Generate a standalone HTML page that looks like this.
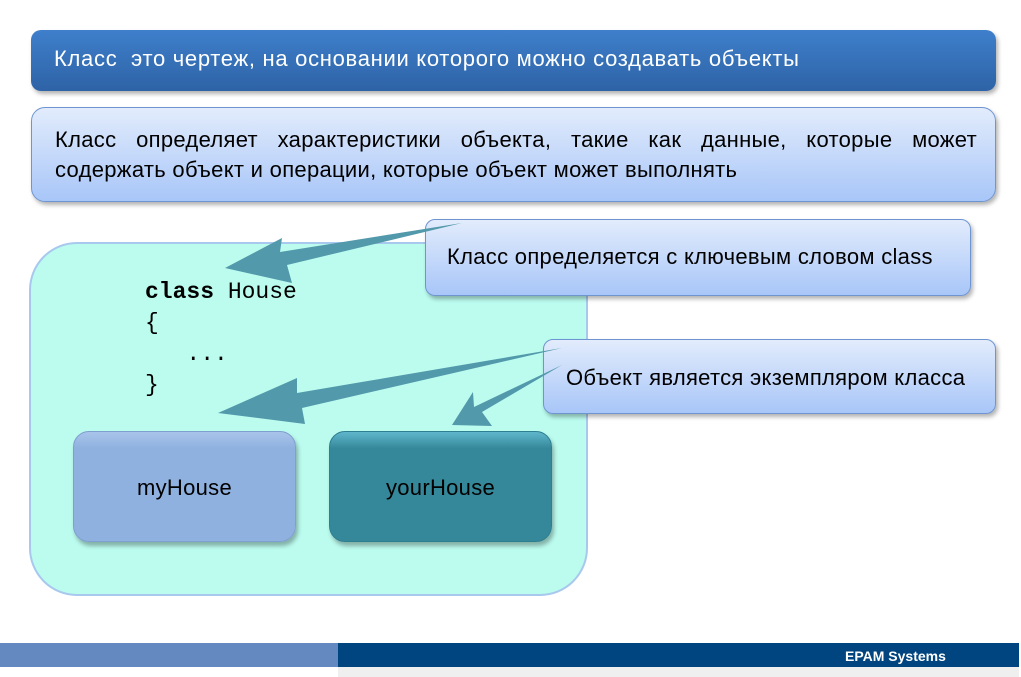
<!DOCTYPE html>
<html><head><meta charset="utf-8"><style>
*{margin:0;padding:0;box-sizing:border-box}
body{width:1021px;height:677px;background:#fff;position:relative;overflow:hidden;font-family:"Liberation Sans","DejaVu Sans",sans-serif}
.abs{position:absolute}
.hdr{left:31px;top:30px;width:965px;height:61px;border-radius:10px;background:linear-gradient(#3e7fcb,#2e63a6);box-shadow:2px 3px 4px rgba(0,0,0,.3);color:#fff;font-size:22px;padding:16px 0 0 23px;letter-spacing:0.7px;white-space:nowrap}
.box2{left:31px;top:107px;width:965px;height:95px;border-radius:14px;background:linear-gradient(#e2ecfc,#a8c6f8);border:1px solid #6f95d0;box-shadow:2px 3px 4px rgba(0,0,0,.3);font-size:22px;line-height:30px;padding:17px 18px 0 23px;color:#000;letter-spacing:0.3px;white-space:nowrap}
.j{text-align:justify;text-align-last:justify;white-space:normal}
.cont{left:29px;top:242px;width:559px;height:354px;border-radius:48px;background:#bbfcef;border:2px solid #a8c8ee}
.call{border-radius:10px;background:linear-gradient(#e2ecfc,#a8c6f8);border:1px solid #6f95d0;box-shadow:2px 3px 4px rgba(0,0,0,.3);font-size:22px;color:#000;letter-spacing:0.3px;white-space:nowrap}
.code{left:145px;top:277px;font-family:"Liberation Mono","DejaVu Sans Mono",monospace;font-size:23px;line-height:31px;white-space:pre;color:#000}
.obj{border-radius:16px;height:111px;width:223px;font-size:22px;text-align:center;line-height:111px;color:#000;box-shadow:2px 4px 4px rgba(0,0,0,.3);letter-spacing:0.3px}
</style></head><body>
<div class="abs hdr">Класс&nbsp; это чертеж, на основании которого можно создавать объекты</div>
<div class="abs box2"><div class="j">Класс определяет характеристики объекта, такие как данные, которые может</div>содержать объект и операции, которые объект может выполнять</div>
<div class="abs cont"></div>
<div class="abs code"><b>class</b> House
{
   ...
}</div>
<div class="abs obj" style="left:73px;top:431px;background:linear-gradient(#a9c4ea,#8fb1df 15%,#8fb1df);border:1px solid #7f9fd0">myHouse</div>
<div class="abs obj" style="left:329px;top:431px;background:linear-gradient(#5fb6cc,#358899 15%,#358899);border:1px solid #2e7f90">yourHouse</div>
<div class="abs call" style="left:425px;top:219px;width:546px;height:77px;padding:24px 0 0 21px">Класс определяется с ключевым словом class</div>
<div class="abs call" style="left:543px;top:339px;width:453px;height:75px;padding:25px 0 0 22px">Объект является экземпляром класса</div>
<svg class="abs" style="left:0;top:0" width="1021" height="677">
<g fill="#5299ab">
<polygon points="225,268 282,238 280,252 462,223 287,265 292,283"/>
<polygon points="218,413 297,378 297,393 562,348 302,408 305,424"/>
<polygon points="452,425 473,392 474,407 562,365 482,412 492,426"/>
</g>
</svg>
<div class="abs" style="left:0;top:643px;width:338px;height:24px;background:#6389c0"></div>
<div class="abs" style="left:338px;top:643px;width:681px;height:24px;background:#00457f;color:#fff;font-weight:bold;font-size:14px;padding:5px 0 0 507px;letter-spacing:0px">EPAM Systems</div>
<div class="abs" style="left:338px;top:667px;width:681px;height:10px;background:#efefef"></div>
</body></html>
